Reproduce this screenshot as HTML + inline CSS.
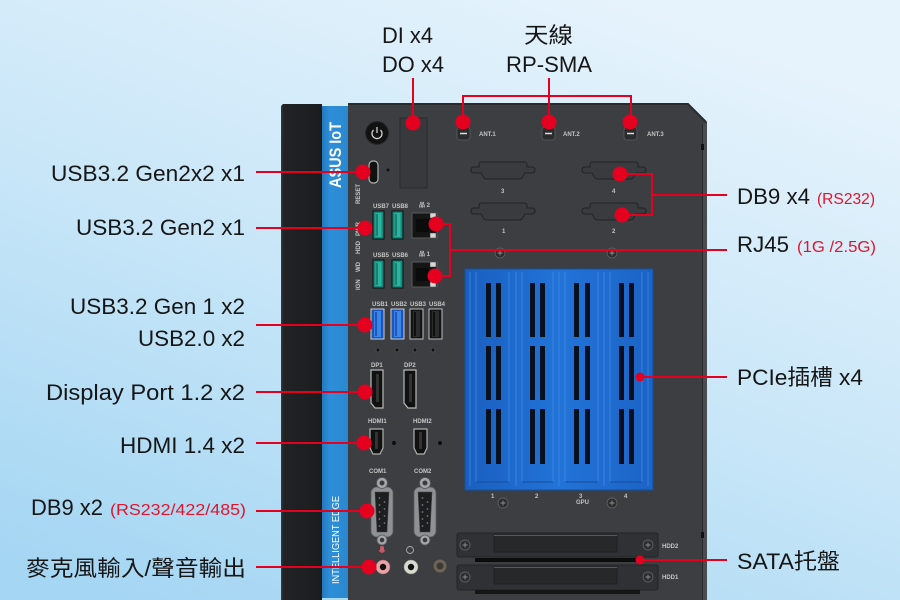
<!DOCTYPE html>
<html><head><meta charset="utf-8">
<style>
html,body{margin:0;padding:0;width:900px;height:600px;overflow:hidden;background:#cfe8f8;}
svg{display:block}
.lb{font-family:"Liberation Sans","Noto Sans CJK TC",sans-serif;font-size:22px;fill:#161616;}
.rd{font-family:"Liberation Sans","Noto Sans CJK TC",sans-serif;font-size:16px;fill:#e2142d;}
.tn{font-family:"Liberation Sans",sans-serif;font-size:6px;font-weight:bold;fill:#c4c4c4;}
</style></head><body>
<svg width="900" height="600" viewBox="0 0 900 600" xmlns="http://www.w3.org/2000/svg">
<defs>
<linearGradient id="bg" x1="0.7" y1="0" x2="0.15" y2="1">
 <stop offset="0" stop-color="#e6f3fc"/>
 <stop offset="0.5" stop-color="#c8e6f8"/>
 <stop offset="1" stop-color="#a5d6f3"/>
</linearGradient>
<linearGradient id="strip" x1="0" y1="0" x2="1" y2="0">
 <stop offset="0" stop-color="#2478bf"/>
 <stop offset="0.3" stop-color="#2d8fd9"/>
 <stop offset="1" stop-color="#2a88d0"/>
</linearGradient>
<linearGradient id="pcie" x1="0" y1="0" x2="1" y2="0">
 <stop offset="0" stop-color="#1a5fc0"/>
 <stop offset="0.5" stop-color="#2273d8"/>
 <stop offset="1" stop-color="#1c63c6"/>
</linearGradient>
<linearGradient id="side" x1="0" y1="0" x2="1" y2="0">
 <stop offset="0" stop-color="#3a3b3e"/>
 <stop offset="0.06" stop-color="#222326"/>
 <stop offset="1" stop-color="#1b1c1e"/>
</linearGradient>
<g id="screw">
 <circle r="5" fill="#2b2c2e" stroke="#5d5f62" stroke-width="0.9"/>
 <path d="M-2.5,0 H2.5 M0,-2.5 V2.5" stroke="#8a8c8f" stroke-width="0.9"/>
</g>
<g id="db9cut">
 <path d="M-22,-8 H22 Q24,-8 24,-5 V-3 H29 Q32,-3 32,0 Q32,3 29,3 H22 L19,8 Q18,9 16,9 H-16 Q-18,9 -19,8 L-22,3 H-29 Q-32,3 -32,0 Q-32,-3 -29,-3 H-24 V-5 Q-24,-8 -22,-8 Z" fill="#393b3e" stroke="#222325" stroke-width="1"/>
</g>
<g id="com">
 <rect x="-11" y="-25" width="22" height="50" rx="6" fill="#8f9295" stroke="#5a5c5f" stroke-width="0.8"/>
 <path d="M-7,-20 H7 L5,20 H-5 Z" fill="#1d1e20" stroke="#444" stroke-width="0.6"/>
 <g fill="#777"><circle cx="-2.5" cy="-14" r="0.9"/><circle cx="-2.5" cy="-7" r="0.9"/><circle cx="-2.5" cy="0" r="0.9"/><circle cx="-2.5" cy="7" r="0.9"/><circle cx="-2.5" cy="14" r="0.9"/>
 <circle cx="2.5" cy="-10" r="0.9"/><circle cx="2.5" cy="-3" r="0.9"/><circle cx="2.5" cy="4" r="0.9"/><circle cx="2.5" cy="11" r="0.9"/></g>
 <circle cx="0" cy="-29" r="5.5" fill="#a4a7aa" stroke="#55575a" stroke-width="0.8"/>
 <circle cx="0" cy="-29" r="2.5" fill="#3a3b3d"/>
 <circle cx="0" cy="28" r="5" fill="#a4a7aa" stroke="#55575a" stroke-width="0.8"/>
 <circle cx="0" cy="28" r="2.3" fill="#3a3b3d"/>
</g>
</defs>

<rect width="900" height="600" fill="url(#bg)"/>

<!-- device body -->
<path d="M283,104 H322 V600 H281 V106 Z" fill="url(#side)"/>
<rect x="322" y="106" width="26" height="492" fill="url(#strip)"/>
<path d="M348,103 H688 L707,122 V600 H348 Z" fill="#3c3e41"/>
<path d="M348,104 H688 L706,122" fill="none" stroke="#2a2b2d" stroke-width="2"/>
<rect x="703" y="124" width="4" height="476" fill="#4a4c4f"/>
<line x1="702.5" y1="124" x2="702.5" y2="600" stroke="#28292b" stroke-width="1"/>
<rect x="701" y="144" width="3" height="6" fill="#111"/>
<rect x="701" y="532" width="3" height="6" fill="#111"/>

<!-- blue strip text -->
<text transform="translate(341,188) rotate(-90)" font-family="Liberation Sans,sans-serif" font-size="17" font-weight="bold" fill="#fff" textLength="66" lengthAdjust="spacingAndGlyphs">ASUS IoT</text>
<text transform="translate(339,584) rotate(-90)" font-family="Liberation Sans,sans-serif" font-size="10.5" fill="#fff" textLength="88" lengthAdjust="spacingAndGlyphs">INTELLIGENT EDGE</text>

<!-- power button -->
<circle cx="377" cy="133" r="11.5" fill="#121213" stroke="#2a2a2c" stroke-width="1"/>
<path d="M373.5,130 A5,5 0 1 0 380.5,130" fill="none" stroke="#cfcfcf" stroke-width="1.3"/>
<line x1="377" y1="127" x2="377" y2="133" stroke="#cfcfcf" stroke-width="1.3"/>

<!-- DI/DO block -->
<rect x="400" y="118" width="27" height="70" fill="#37393c" stroke="#2a2b2d" stroke-width="1"/>

<!-- USB-C -->
<rect x="369" y="161" width="9" height="22" rx="4" fill="#111" stroke="#b0b0b0" stroke-width="1.2"/>
<circle cx="388" cy="170" r="1.5" fill="#111"/>
<text class="tn" transform="translate(360,204) rotate(-90)" font-size="5">RESET</text>
<text class="tn" transform="translate(360,236) rotate(-90)" font-size="5">PWR</text>
<text class="tn" transform="translate(360,254) rotate(-90)" font-size="5">HDD</text>
<text class="tn" transform="translate(360,272) rotate(-90)" font-size="5">WD</text>
<text class="tn" transform="translate(360,290) rotate(-90)" font-size="5">IGN</text>

<!-- teal USB -->
<g>
<text class="tn" x="373" y="208" font-size="4.5">USB7</text><text class="tn" x="392" y="208" font-size="4.5">USB8</text>
<rect x="373" y="211" width="11" height="28" fill="#128b7c" stroke="#0d0d0d" stroke-width="1"/>
<rect x="375.5" y="213" width="6" height="24" fill="#2db39e"/><line x1="377" y1="214" x2="377" y2="236" stroke="#0c5e55" stroke-width="1.2"/>
<rect x="392" y="211" width="11" height="28" fill="#128b7c" stroke="#0d0d0d" stroke-width="1"/>
<rect x="394.5" y="213" width="6" height="24" fill="#2db39e"/><line x1="396" y1="214" x2="396" y2="236" stroke="#0c5e55" stroke-width="1.2"/>
<text class="tn" x="373" y="257" font-size="4.5">USB5</text><text class="tn" x="392" y="257" font-size="4.5">USB6</text>
<rect x="373" y="260" width="11" height="28" fill="#128b7c" stroke="#0d0d0d" stroke-width="1"/>
<rect x="375.5" y="262" width="6" height="24" fill="#2db39e"/><line x1="377" y1="263" x2="377" y2="285" stroke="#0c5e55" stroke-width="1.2"/>
<rect x="392" y="260" width="11" height="28" fill="#128b7c" stroke="#0d0d0d" stroke-width="1"/>
<rect x="394.5" y="262" width="6" height="24" fill="#2db39e"/><line x1="396" y1="263" x2="396" y2="285" stroke="#0c5e55" stroke-width="1.2"/>
</g>

<!-- RJ45 -->
<text class="tn" x="419" y="207" font-size="6">品 2</text>
<rect x="412" y="213" width="25" height="25" fill="#151516" stroke="#58595c" stroke-width="1"/>
<rect x="416" y="219" width="13" height="13" fill="#0b0b0b"/>
<rect x="430" y="213" width="6" height="5" fill="#d8d8d8" stroke="#333" stroke-width="0.5"/>
<rect x="430" y="233" width="6" height="5" fill="#d8d8d8" stroke="#333" stroke-width="0.5"/>
<text class="tn" x="419" y="256" font-size="6">品 1</text>
<rect x="412" y="262" width="25" height="25" fill="#151516" stroke="#58595c" stroke-width="1"/>
<rect x="416" y="268" width="13" height="13" fill="#0b0b0b"/>
<rect x="430" y="262" width="6" height="5" fill="#d8d8d8" stroke="#333" stroke-width="0.5"/>
<rect x="430" y="282" width="6" height="5" fill="#d8d8d8" stroke="#333" stroke-width="0.5"/>

<!-- USB row 3 -->
<text class="tn" x="372" y="306" font-size="4.5">USB1</text><text class="tn" x="391" y="306" font-size="4.5">USB2</text>
<text class="tn" x="410" y="306" font-size="4.5">USB3</text><text class="tn" x="429" y="306" font-size="4.5">USB4</text>
<rect x="371" y="309" width="13" height="30" fill="#1a55c0" stroke="#cfcfcf" stroke-width="1"/>
<rect x="374" y="311" width="7" height="26" fill="#3a86ea"/><line x1="376" y1="312" x2="376" y2="336" stroke="#123f90" stroke-width="1.3"/>
<rect x="391" y="309" width="13" height="30" fill="#1a55c0" stroke="#cfcfcf" stroke-width="1"/>
<rect x="394" y="311" width="7" height="26" fill="#3a86ea"/><line x1="396" y1="312" x2="396" y2="336" stroke="#123f90" stroke-width="1.3"/>
<rect x="410" y="309" width="13" height="30" fill="#141414" stroke="#bdbdbd" stroke-width="1"/>
<rect x="413" y="311" width="7" height="26" fill="#2c2c2c"/><line x1="415" y1="312" x2="415" y2="336" stroke="#000" stroke-width="1.3"/>
<rect x="429" y="309" width="13" height="30" fill="#141414" stroke="#bdbdbd" stroke-width="1"/>
<rect x="432" y="311" width="7" height="26" fill="#2c2c2c"/><line x1="434" y1="312" x2="434" y2="336" stroke="#000" stroke-width="1.3"/>
<g fill="#111" stroke="#666" stroke-width="0.6"><circle cx="378" cy="350" r="2"/><circle cx="397" cy="350" r="2"/><circle cx="415" cy="350" r="2"/><circle cx="433" cy="350" r="2"/></g>

<!-- DP -->
<text class="tn" x="371" y="367" font-size="6">DP1</text><text class="tn" x="404" y="367" font-size="6">DP2</text>
<path d="M371,370 H383 V408 H375 L371,403 Z" fill="#111" stroke="#b8b8b8" stroke-width="1.2"/>
<rect x="376" y="374" width="3" height="28" fill="#333"/>
<path d="M404,370 H416 V408 H408 L404,403 Z" fill="#111" stroke="#b8b8b8" stroke-width="1.2"/>
<rect x="409" y="374" width="3" height="28" fill="#333"/>

<!-- HDMI -->
<text class="tn" x="368" y="423" font-size="5.5">HDMI1</text><text class="tn" x="413" y="423" font-size="5.5">HDMI2</text>
<path d="M370,429 H383 V448 L380,454 H373 L370,448 Z" fill="#111" stroke="#b0b0b0" stroke-width="1.2"/>
<rect x="375" y="432" width="3" height="17" fill="#333"/>
<path d="M414,429 H427 V448 L424,454 H417 L414,448 Z" fill="#111" stroke="#b0b0b0" stroke-width="1.2"/>
<rect x="419" y="432" width="3" height="17" fill="#333"/>
<circle cx="394" cy="443" r="2" fill="#0d0d0d"/><circle cx="440" cy="443" r="2" fill="#0d0d0d"/>

<!-- COM -->
<text class="tn" x="369" y="473" font-size="6">COM1</text><text class="tn" x="414" y="473" font-size="6">COM2</text>
<use href="#com" x="382" y="512"/>
<use href="#com" x="425" y="512"/>

<!-- audio -->
<rect x="380" y="546" width="4" height="6" rx="2" fill="#c85a6a"/>
<path d="M379,550 Q382,555 385,550" fill="none" stroke="#c85a6a" stroke-width="0.8"/>
<circle cx="410" cy="550" r="3.5" fill="none" stroke="#aaa" stroke-width="0.9"/>
<circle cx="383" cy="567" r="7" fill="#e9a3a6" stroke="#9a6a6c" stroke-width="0.6"/><circle cx="383" cy="567" r="3.2" fill="#111"/>
<circle cx="411" cy="567" r="7" fill="#d5ddd0" stroke="#888" stroke-width="0.6"/><circle cx="411" cy="567" r="3.2" fill="#111"/>
<circle cx="440" cy="566" r="7" fill="#6b6457" stroke="#3a3a36" stroke-width="0.8"/><circle cx="440" cy="566" r="3.5" fill="#3b3a36"/>

<!-- antennas -->
<g>
<rect x="457" y="127" width="13" height="13" rx="3" fill="#2b2c2e" stroke="#5a5c5f" stroke-width="0.8"/><line x1="460" y1="133.5" x2="467" y2="133.5" stroke="#ddd" stroke-width="1.5"/>
<rect x="542" y="127" width="13" height="13" rx="3" fill="#2b2c2e" stroke="#5a5c5f" stroke-width="0.8"/><line x1="545" y1="133.5" x2="552" y2="133.5" stroke="#ddd" stroke-width="1.5"/>
<rect x="624" y="127" width="13" height="13" rx="3" fill="#2b2c2e" stroke="#5a5c5f" stroke-width="0.8"/><line x1="627" y1="133.5" x2="634" y2="133.5" stroke="#ddd" stroke-width="1.5"/>
<text class="tn" x="479" y="136">ANT.1</text><text class="tn" x="563" y="136">ANT.2</text><text class="tn" x="647" y="136">ANT.3</text>
</g>

<!-- DB9 cutouts -->
<use href="#db9cut" x="503" y="170"/><use href="#db9cut" x="614" y="170"/>
<use href="#db9cut" x="503" y="211"/><use href="#db9cut" x="614" y="211"/>
<text class="tn" x="501" y="193">3</text><text class="tn" x="612" y="193">4</text>
<text class="tn" x="502" y="233">1</text><text class="tn" x="612" y="233">2</text>
<use href="#screw" x="500" y="253"/><use href="#screw" x="612" y="253"/>

<!-- PCIe -->
<rect x="465" y="269" width="188" height="221" fill="url(#pcie)" stroke="#15509f" stroke-width="1"/>
<g stroke="#3f8fe6" stroke-width="1.2" opacity="0.6">
<line x1="470" y1="272" x2="470" y2="486"/><line x1="476" y1="272" x2="476" y2="482"/>
<line x1="509" y1="272" x2="509" y2="482"/><line x1="516" y1="272" x2="516" y2="486"/><line x1="522" y1="272" x2="522" y2="482"/>
<line x1="553" y1="272" x2="553" y2="482"/><line x1="559" y1="272" x2="559" y2="486"/><line x1="565" y1="272" x2="565" y2="482"/>
<line x1="598" y1="272" x2="598" y2="482"/><line x1="604" y1="272" x2="604" y2="486"/><line x1="610" y1="272" x2="610" y2="482"/>
<line x1="642" y1="272" x2="642" y2="482"/><line x1="648" y1="272" x2="648" y2="486"/>
</g>
<g stroke="#174d9c" stroke-width="1"><line x1="476" y1="482" x2="509" y2="482"/><line x1="522" y1="482" x2="553" y2="482"/><line x1="565" y1="482" x2="598" y2="482"/><line x1="610" y1="482" x2="642" y2="482"/></g>
<g fill="#07101e">
<rect x="486" y="283" width="5" height="54"/><rect x="496" y="283" width="5" height="54"/>
<rect x="486" y="346" width="5" height="54"/><rect x="496" y="346" width="5" height="54"/>
<rect x="486" y="409" width="5" height="55"/><rect x="496" y="409" width="5" height="55"/>
<rect x="530" y="283" width="5" height="54"/><rect x="540" y="283" width="5" height="54"/>
<rect x="530" y="346" width="5" height="54"/><rect x="540" y="346" width="5" height="54"/>
<rect x="530" y="409" width="5" height="55"/><rect x="540" y="409" width="5" height="55"/>
<rect x="574" y="283" width="5" height="54"/><rect x="585" y="283" width="5" height="54"/>
<rect x="574" y="346" width="5" height="54"/><rect x="585" y="346" width="5" height="54"/>
<rect x="574" y="409" width="5" height="55"/><rect x="585" y="409" width="5" height="55"/>
<rect x="619" y="283" width="5" height="54"/><rect x="629" y="283" width="5" height="54"/>
<rect x="619" y="346" width="5" height="54"/><rect x="629" y="346" width="5" height="54"/>
<rect x="619" y="409" width="5" height="55"/><rect x="629" y="409" width="5" height="55"/>
</g>
<text class="tn" x="491" y="498">1</text><text class="tn" x="535" y="498">2</text><text class="tn" x="579" y="498">3</text><text class="tn" x="576" y="504" font-size="5">GPU</text><text class="tn" x="624" y="498">4</text>
<use href="#screw" x="503" y="503"/><use href="#screw" x="612" y="503"/>

<!-- HDD trays -->
<rect x="457" y="533" width="201" height="24" rx="2" fill="#2f3134" stroke="#232426" stroke-width="1"/>
<rect x="494" y="535" width="123" height="17" fill="#27282a" stroke="#1c1d1f" stroke-width="0.8"/>
<line x1="494" y1="535.5" x2="617" y2="535.5" stroke="#55575a" stroke-width="1"/>
<use href="#screw" x="465" y="545"/><use href="#screw" x="648" y="545"/>
<rect x="475" y="558" width="161" height="4" fill="#0c0c0d"/>
<rect x="457" y="565" width="201" height="25" rx="2" fill="#2f3134" stroke="#232426" stroke-width="1"/>
<rect x="494" y="567" width="123" height="17" fill="#27282a" stroke="#1c1d1f" stroke-width="0.8"/>
<line x1="494" y1="567.5" x2="617" y2="567.5" stroke="#55575a" stroke-width="1"/>
<use href="#screw" x="465" y="577"/><use href="#screw" x="648" y="577"/>
<rect x="475" y="590" width="165" height="4" fill="#151516"/>
<text class="tn" x="662" y="548" font-size="5.5">HDD2</text><text class="tn" x="662" y="579" font-size="5.5">HDD1</text>

<!-- red connectors -->
<g stroke="#e60020" stroke-width="2" fill="none">
<line x1="256" y1="172" x2="363" y2="172"/>
<line x1="256" y1="228" x2="365" y2="228"/>
<line x1="256" y1="325" x2="365" y2="325"/>
<line x1="256" y1="392" x2="365" y2="392"/>
<line x1="256" y1="443" x2="364" y2="443"/>
<line x1="256" y1="511" x2="367" y2="511"/>
<line x1="256" y1="567" x2="369" y2="567"/>
<line x1="413" y1="78" x2="413" y2="123"/>
<line x1="549" y1="78" x2="549" y2="96"/>
<path d="M463,122 V96 H631 V122"/>
<line x1="549" y1="96" x2="549" y2="122"/>
<path d="M620,174 H652 V215 H622"/>
<line x1="652" y1="195" x2="727" y2="195"/>
<path d="M436,224 H450 V276 H435"/>
<line x1="450" y1="250" x2="727" y2="250"/>
<line x1="640" y1="377" x2="727" y2="377"/>
<line x1="640" y1="560" x2="727" y2="560"/>
</g>
<g fill="#e60020">
<circle cx="363" cy="172" r="7.5"/>
<circle cx="365" cy="228" r="7.5"/>
<circle cx="365" cy="325" r="7.5"/>
<circle cx="365" cy="392" r="7.5"/>
<circle cx="364" cy="443" r="7.5"/>
<circle cx="367" cy="511" r="7.5"/>
<circle cx="369" cy="567" r="7.5"/>
<circle cx="413" cy="123" r="7.5"/>
<circle cx="463" cy="122" r="7.5"/>
<circle cx="549" cy="122" r="7.5"/>
<circle cx="630" cy="122" r="7.5"/>
<circle cx="620" cy="174" r="7.5"/>
<circle cx="622" cy="215" r="7.5"/>
<circle cx="436" cy="224" r="7.5"/>
<circle cx="435" cy="276" r="7.5"/>
<circle cx="640" cy="377" r="4.5"/>
<circle cx="640" cy="560" r="4.5"/>
</g>

<!-- labels left -->
<text class="lb" x="245" y="181" text-anchor="end" textLength="194" lengthAdjust="spacingAndGlyphs">USB3.2 Gen2x2 x1</text>
<text class="lb" x="245" y="235" text-anchor="end" textLength="169" lengthAdjust="spacingAndGlyphs">USB3.2 Gen2 x1</text>
<text class="lb" x="245" y="314" text-anchor="end" textLength="175" lengthAdjust="spacingAndGlyphs">USB3.2 Gen 1 x2</text>
<text class="lb" x="245" y="346" text-anchor="end" textLength="107" lengthAdjust="spacingAndGlyphs">USB2.0 x2</text>
<text class="lb" x="245" y="400" text-anchor="end" textLength="199" lengthAdjust="spacingAndGlyphs">Display Port 1.2 x2</text>
<text class="lb" x="245" y="453" text-anchor="end" textLength="125" lengthAdjust="spacingAndGlyphs">HDMI 1.4 x2</text>
<text class="lb" x="31" y="515" textLength="72" lengthAdjust="spacingAndGlyphs">DB9 x2</text>
<text class="rd" x="110" y="515" textLength="136" lengthAdjust="spacingAndGlyphs">(RS232/422/485)</text>
<text class="lb" x="26" y="576" textLength="220" lengthAdjust="spacingAndGlyphs">麥克風輸入/聲音輸出</text>

<!-- labels top -->
<text class="lb" x="382" y="43" textLength="51" lengthAdjust="spacingAndGlyphs">DI x4</text>
<text class="lb" x="382" y="72" textLength="62" lengthAdjust="spacingAndGlyphs">DO x4</text>
<text class="lb" x="524" y="43" textLength="49" lengthAdjust="spacingAndGlyphs">天線</text>
<text class="lb" x="506" y="72" textLength="86" lengthAdjust="spacingAndGlyphs">RP-SMA</text>

<!-- labels right -->
<text class="lb" x="737" y="204" textLength="73" lengthAdjust="spacingAndGlyphs">DB9 x4</text>
<text class="rd" x="817" y="204" textLength="58" lengthAdjust="spacingAndGlyphs">(RS232)</text>
<text class="lb" x="737" y="252" textLength="52" lengthAdjust="spacingAndGlyphs">RJ45</text>
<text class="rd" x="797" y="252" textLength="79" lengthAdjust="spacingAndGlyphs">(1G /2.5G)</text>
<text class="lb" x="737" y="385" textLength="126" lengthAdjust="spacingAndGlyphs">PCIe插槽 x4</text>
<text class="lb" x="737" y="569" textLength="103" lengthAdjust="spacingAndGlyphs">SATA托盤</text>
</svg>
</body></html>
